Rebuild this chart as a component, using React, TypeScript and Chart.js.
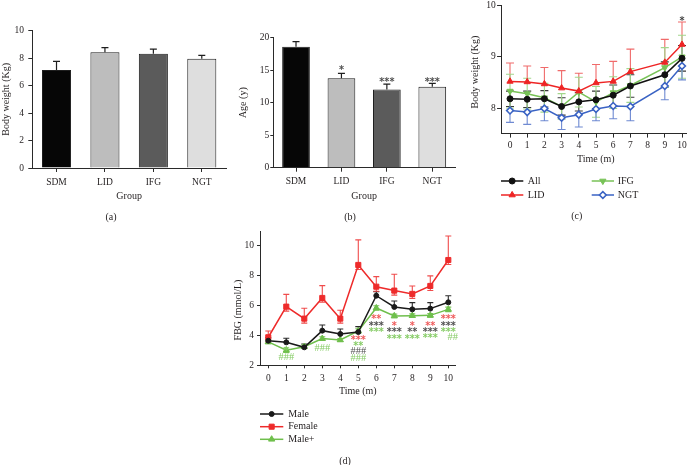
import React, { useEffect, useRef } from 'react';
import { Chart, registerables } from 'chart.js';

Chart.register(...registerables);

const SERIF = "'Liberation Serif', 'Times New Roman', Times, serif";
const STAR_FONT = "'DejaVu Sans', 'Liberation Sans', sans-serif";
const INK = '#231f20';
const AXIS = '#2a2a2a';

// ---------- (a) / (b) ----------
const groups = ['SDM', 'LID', 'IFG', 'NGT'];
const groupColors = ['#060606', '#bdbdbd', '#5b5b5b', '#dedede'];
const bodyWeightByGroup = [7.14, 8.43, 8.33, 7.95];
const bodyWeightByGroupErr = [0.63, 0.34, 0.33, 0.25];
const ageByGroup = [18.6, 13.75, 12.05, 12.45];
const ageByGroupErr = [0.8, 0.75, 0.8, 0.52];
const ageSigText = ['', '*', '***', '***'];
const ageSigLevel = [0, 15.5, 13.6, 13.6];

// ---------- (c) ----------
const monthsC = [0, 1, 2, 3, 4, 5, 6, 7, 9, 10];
const weightAll = [8.18, 8.17, 8.18, 8.03, 8.12, 8.16, 8.25, 8.43, 8.65, 8.97];
const weightAllErr = [0.15, 0.16, 0.16, 0.17, 0.18, 0.17, 0.2, 0.22, 0.25, 0.25];
const weightLID = [8.52, 8.51, 8.47, 8.39, 8.33, 8.49, 8.52, 8.71, 8.89, 9.24];
const weightLIDErr = [0.36, 0.31, 0.32, 0.34, 0.35, 0.36, 0.39, 0.44, 0.45, 0.44];
const weightIFG = [8.33, 8.28, 8.2, 8.03, 8.31, 8.12, 8.3, 8.44, 8.79, 9.0];
const weightIFGErr = [0.33, 0.3, 0.28, 0.25, 0.29, 0.3, 0.31, 0.33, 0.39, 0.42];
const weightNGT = [7.95, 7.92, 7.99, 7.81, 7.87, 7.98, 8.04, 8.03, 8.43, 8.82];
const weightNGTErr = [0.23, 0.24, 0.24, 0.23, 0.24, 0.23, 0.25, 0.28, 0.27, 0.27];
const weightSig: [number, number, string, string][] = [[10, 9.76, '*', '#444444']];

// ---------- (d) ----------
const monthsD = [0, 1, 2, 3, 4, 5, 6, 7, 8, 9, 10];
const fbgMale = [3.64, 3.53, 3.2, 4.31, 4.09, 4.22, 6.64, 5.89, 5.73, 5.78, 6.2];
const fbgMaleErr = [0.2, 0.27, 0.22, 0.38, 0.33, 0.36, 0.27, 0.4, 0.45, 0.4, 0.44];
const fbgFemale = [3.87, 5.91, 5.11, 6.49, 5.11, 8.69, 7.24, 6.98, 6.76, 7.29, 9.02];
const fbgFemaleErrUp = [0.42, 0.82, 0.69, 0.82, 0.56, 1.67, 0.67, 1.09, 0.53, 0.67, 1.6];
const fbgFemaleErrDown = [0.3, 0.3, 0.3, 0.28, 0.3, 0.3, 0.3, 0.3, 0.3, 0.3, 0.3];
const fbgMalePlus = [3.56, 3.0, 3.24, 3.78, 3.69, 4.29, 5.82, 5.29, 5.31, 5.33, 5.73];
const fbgMalePlusErr = [0.12, 0.15, 0.12, 0.12, 0.1, 0.15, 0.15, 0.12, 0.12, 0.12, 0.15];

const SIG_R = '#ef5a5a';
const SIG_K = '#505050';
const SIG_G = '#86cc66';
const fbgSig: [number, number, string, string][] = [
  [1, 3.15, '*', SIG_G], [1, 2.6, '###', SIG_G],
  [3, 3.2, '###', SIG_G],
  [5, 3.85, '***', SIG_R], [5, 3.45, '**', SIG_G], [5, 2.97, '###', SIG_K], [5, 2.52, '###', SIG_G],
  [6, 5.25, '**', SIG_R], [6, 4.82, '***', SIG_K], [6, 4.42, '***', SIG_G],
  [7, 4.78, '*', SIG_R], [7, 4.4, '***', SIG_K], [7, 3.97, '***', SIG_G],
  [8, 4.8, '*', SIG_R], [8, 4.4, '**', SIG_K], [8, 3.97, '***', SIG_G],
  [9, 4.8, '**', SIG_R], [9, 4.42, '***', SIG_K], [9, 4.0, '***', SIG_G],
  [10, 5.25, '***', SIG_R], [10, 4.82, '***', SIG_K], [10, 4.42, '***', SIG_G], [10.25, 3.95, '##', SIG_G],
];

// ---------- helpers ----------
type Frame = { L: number; T: number; R: number; B: number; yTitleX: number; xTitleY: number; W: number; H: number };
const TITLE_SIZE = 10;
const TITLE_LH = TITLE_SIZE * 1.2;

function frameLayout(f: Frame) {
  const padLeft = f.yTitleX - TITLE_LH / 2;
  return {
    padding: { left: padLeft, top: f.T, right: f.W - f.R, bottom: f.H - f.xTitleY - TITLE_LH / 2 },
    yWidth: f.L - padLeft,
    xHeight: f.xTitleY + TITLE_LH / 2 - f.B,
  };
}

function zeroPad(s: any) {
  s.paddingTop = 0; s.paddingBottom = 0; s.paddingLeft = 0; s.paddingRight = 0;
}

function axis(title: string, showTitle: boolean, tickLen: number, pad: number, extra: any, fit: (s: any) => void) {
  return {
    border: { display: true, color: AXIS, width: 1 },
    grid: { display: true, drawOnChartArea: false, drawTicks: true, tickLength: tickLen, color: AXIS, lineWidth: 1 },
    ticks: { color: INK, font: { family: SERIF, size: 9.5 }, padding: pad, ...(extra.ticks || {}) },
    title: { display: showTitle, text: title, color: INK, font: { family: SERIF, size: TITLE_SIZE, lineHeight: 1.2 }, padding: 0 },
    afterFit: (s: any) => { fit(s); zeroPad(s); },
    ...extra.rest,
  };
}

function marker(ctx: CanvasRenderingContext2D, style: string, x: number, y: number, r: number, rot: number, fill: string, stroke: string, lw: number) {
  ctx.save();
  ctx.beginPath();
  let rad = (rot * Math.PI) / 180;
  if (style === 'circle') {
    ctx.arc(x, y, r, 0, Math.PI * 2);
  } else if (style === 'triangle') {
    ctx.moveTo(x + Math.sin(rad) * r, y - Math.cos(rad) * r);
    rad += (2 * Math.PI) / 3;
    ctx.lineTo(x + Math.sin(rad) * r, y - Math.cos(rad) * r);
    rad += (2 * Math.PI) / 3;
    ctx.lineTo(x + Math.sin(rad) * r, y - Math.cos(rad) * r);
    ctx.closePath();
  } else if (style === 'rect') {
    const s = Math.SQRT1_2 * r;
    ctx.rect(x - s, y - s, 2 * s, 2 * s);
  } else if (style === 'rectRot') {
    ctx.moveTo(x - r, y); ctx.lineTo(x, y - r); ctx.lineTo(x + r, y); ctx.lineTo(x, y + r);
    ctx.closePath();
  }
  ctx.fillStyle = fill; ctx.fill();
  if (lw > 0) { ctx.strokeStyle = stroke; ctx.lineWidth = lw; ctx.stroke(); }
  ctx.restore();
}

function sigText(ctx: CanvasRenderingContext2D, text: string, x: number, y: number, color: string, size: number) {
  ctx.save();
  const isHash = text.indexOf('#') >= 0;
  ctx.font = isHash ? `${size}px ${SERIF}` : `bold ${size * 0.92}px ${STAR_FONT}`;
  ctx.fillStyle = color;
  ctx.textAlign = 'center';
  ctx.textBaseline = 'alphabetic';
  ctx.fillText(text, x, y + (isHash ? 0.34 : 0.55) * size);
  ctx.restore();
}

type LegendItem = { ds: number; x1: number; x2: number; y: number; tx: number };
type DecorCfg = {
  label: [string, number, number];
  yTitle?: [string, number, number];
  marks?: [number, number, string, string][];
  markSize?: number;
  barMarks?: { text: string[]; level: number[] };
  legend?: LegendItem[];
};

function drawErrors(chart: any, i: number) {
  const ds = chart.data.datasets[i];
  if (!ds.errUp && !ds.errDown) return;
  const meta = chart.getDatasetMeta(i);
  const ys = chart.scales.y;
  const ctx: CanvasRenderingContext2D = chart.ctx;
  ctx.save();
  ctx.strokeStyle = ds.errColor;
  ctx.lineWidth = ds.errWidth || 1;
  const cap = (ds.errCap || 6) / 2;
  meta.data.forEach((el: any, j: number) => {
    const raw = ds.data[j];
    const v = typeof raw === 'number' ? raw : raw.y;
    const x = el.x;
    const y0 = ys.getPixelForValue(v);
    const seg = (e: number) => {
      const y1 = ys.getPixelForValue(v + e);
      ctx.beginPath();
      ctx.moveTo(x, y0); ctx.lineTo(x, y1);
      ctx.moveTo(x - cap, y1); ctx.lineTo(x + cap, y1);
      ctx.stroke();
    };
    if (ds.errUp && ds.errUp[j]) seg(ds.errUp[j]);
    if (ds.errDown && ds.errDown[j]) seg(-ds.errDown[j]);
  });
  ctx.restore();
}

function makeDecor(cfg: DecorCfg) {
  return {
    id: 'decor',
    beforeDatasetsDraw(chart: any) {
      chart.data.datasets.forEach((ds: any, i: number) => { if (ds.errUnder) drawErrors(chart, i); });
    },
    afterDatasetsDraw(chart: any) {
      const ctx: CanvasRenderingContext2D = chart.ctx;
      chart.data.datasets.forEach((ds: any, i: number) => { if (!ds.errUnder) drawErrors(chart, i); });
      const xs = chart.scales.x;
      const ys = chart.scales.y;
      const size = cfg.markSize || 11;
      if (cfg.barMarks) {
        const meta = chart.getDatasetMeta(0);
        cfg.barMarks.text.forEach((t, j) => {
          if (!t) return;
          sigText(ctx, t, meta.data[j].x, ys.getPixelForValue(cfg.barMarks!.level[j]), SIG_K, size);
        });
      }
      if (cfg.marks) {
        cfg.marks.forEach(([mx, my, t, col]) => {
          sigText(ctx, t, xs.getPixelForValue(mx), ys.getPixelForValue(my), col, size);
        });
      }
      if (cfg.legend) {
        cfg.legend.forEach((it) => {
          const ds = chart.data.datasets[it.ds];
          ctx.save();
          ctx.strokeStyle = ds.borderColor;
          ctx.lineWidth = ds.borderWidth;
          ctx.beginPath();
          ctx.moveTo(it.x1, it.y); ctx.lineTo(it.x2, it.y);
          ctx.stroke();
          ctx.restore();
          marker(ctx, ds.pointStyle, (it.x1 + it.x2) / 2, it.y, ds.pointRadius, ds.pointRotation || 0,
            ds.pointBackgroundColor, ds.pointBorderColor, ds.pointBorderWidth || 0);
          ctx.save();
          ctx.font = `10px ${SERIF}`;
          ctx.fillStyle = INK;
          ctx.textAlign = 'left';
          ctx.textBaseline = 'middle';
          ctx.fillText(ds.label, it.tx, it.y);
          ctx.restore();
        });
      }
      if (cfg.yTitle) {
        const [tt, tx, ty] = cfg.yTitle;
        ctx.save();
        ctx.translate(tx, ty);
        ctx.rotate(-Math.PI / 2);
        ctx.font = `${TITLE_SIZE}px ${SERIF}`;
        ctx.fillStyle = INK;
        ctx.textAlign = 'center';
        ctx.textBaseline = 'middle';
        ctx.fillText(tt, 0, 0);
        ctx.restore();
      }
      const [lt, lx, ly] = cfg.label;
      ctx.save();
      ctx.font = `10px ${SERIF}`;
      ctx.fillStyle = INK;
      ctx.textAlign = 'center';
      ctx.textBaseline = 'middle';
      ctx.fillText(lt, lx, ly);
      ctx.restore();
    },
  };
}

function barConfig(f: Frame, yTitle: string, values: number[], errs: number[], yMax: number, step: number,
  yTick: [number, number], xTick: [number, number], barPct: number, decor: DecorCfg) {
  const lay = frameLayout(f);
  return {
    type: 'bar',
    data: {
      labels: groups,
      datasets: [{
        data: values,
        backgroundColor: groupColors,
        borderColor: '#1e1e1e',
        borderWidth: 1,
        borderSkipped: 'bottom',
        barPercentage: barPct,
        categoryPercentage: 1,
        errUp: errs,
        errColor: '#1e1e1e',
        errWidth: 1.2,
        errCap: 7,
      }],
    },
    options: {
      responsive: false,
      animation: false,
      events: [],
      layout: { padding: lay.padding },
      plugins: { legend: { display: false }, tooltip: { enabled: false } },
      scales: {
        x: axis('Group', true, xTick[0], xTick[1], { rest: { type: 'category', offset: true, grid: { display: true, drawOnChartArea: false, drawTicks: true, tickLength: xTick[0], color: AXIS, offset: false } } },
          (s) => { s.height = lay.xHeight; }),
        y: axis(yTitle, true, yTick[0], yTick[1], { ticks: { stepSize: step }, rest: { type: 'linear', min: 0, max: yMax } },
          (s) => { s.width = lay.yWidth; }),
      },
    },
    plugins: [makeDecor(decor)],
  };
}

function lineDs(label: string, xs: number[], ys: number[], color: string, style: string, radius: number, rot: number,
  fill: string, pbw: number, errUp: number[] | null, errDown: number[] | null, errColor: string, cap: number) {
  return {
    label,
    data: xs.map((x, i) => ({ x, y: ys[i] })),
    borderColor: color,
    borderWidth: 1.5,
    pointStyle: style,
    pointRadius: radius,
    pointRotation: rot,
    pointBackgroundColor: fill,
    pointBorderColor: color,
    pointBorderWidth: pbw,
    tension: 0,
    fill: false,
    errUp, errDown, errColor, errWidth: 1.1, errCap: cap, errUnder: true,
  };
}

function lineConfig(f: Frame, datasets: any[], xMin: number, xMax: number, yMin: number, yMax: number,
  yStep: number, yTick: [number, number], xTick: [number, number], decor: DecorCfg) {
  const lay = frameLayout(f);
  return {
    type: 'line',
    data: { datasets },
    options: {
      responsive: false,
      animation: false,
      events: [],
      layout: { padding: lay.padding },
      plugins: { legend: { display: false }, tooltip: { enabled: false } },
      scales: {
        x: axis('Time (m)', true, xTick[0], xTick[1], { ticks: { stepSize: 1, includeBounds: false }, rest: { type: 'linear', min: xMin, max: xMax } },
          (s) => { s.height = lay.xHeight; }),
        y: axis('', false, yTick[0], yTick[1], { ticks: { stepSize: yStep, includeBounds: false }, rest: { type: 'linear', min: yMin, max: yMax } },
          (s) => { s.width = lay.yWidth; }),
      },
    },
    plugins: [makeDecor(decor)],
  };
}

const PAGE_W = 687;
const PAGE_H = 465;

const frameA: Frame = { L: 32.3, T: 30.7, R: 226, B: 168, yTitleX: 6, xTitleY: 196, W: PAGE_W, H: PAGE_H };
const frameB: Frame = { L: 273.3, T: 37.7, R: 455, B: 167.7, yTitleX: 243.3, xTitleY: 196, W: PAGE_W, H: PAGE_H };
const frameC: Frame = { L: 501.06, T: 4.5, R: 690.6, B: 133.6, yTitleX: 475, xTitleY: 159.3, W: 720, H: PAGE_H };
const frameD: Frame = { L: 260, T: 231.8, R: 455.5, B: 365.3, yTitleX: 238, xTitleY: 391, W: PAGE_W, H: PAGE_H };

function configA() {
  return barConfig(frameA, 'Body weight (Kg)', bodyWeightByGroup, bodyWeightByGroupErr, 10, 2, [4, 4.3], [4, 4.3], 0.6,
    { label: ['(a)', 111, 217] });
}
function configB() {
  return barConfig(frameB, 'Age (y)', ageByGroup, ageByGroupErr, 20, 5, [3, 1], [4, 4.3], 0.61,
    { label: ['(b)', 350, 217], barMarks: { text: ageSigText, level: ageSigLevel }, markSize: 10.5 });
}
function configC() {
  const ds = [
    lineDs('All', monthsC, weightAll, '#111111', 'circle', 3, 0, '#111111', 1, weightAllErr, weightAllErr, '#3a3a3a', 8),
    lineDs('LID', monthsC, weightLID, '#ee2424', 'triangle', 3.6, 0, '#ee2424', 1, weightLIDErr, null, '#f06a6a', 8),
    lineDs('IFG', monthsC, weightIFG, '#78c257', 'triangle', 3.6, 180, '#78c257', 1, weightIFGErr, weightIFGErr, '#a2d68c', 8),
    lineDs('NGT', monthsC, weightNGT, '#3a63c4', 'rectRot', 3.4, 0, '#ffffff', 1.6, null, weightNGTErr, '#6f8ad2', 8),
  ];
  return lineConfig(frameC, ds, -0.52, 10.5, 7.5, 10, 1, [4, 1.3], [4, 1.7], {
    label: ['(c)', 576.7, 216.7],
    yTitle: ['Body weight (Kg)', 475, 72],
    marks: weightSig,
    markSize: 10.5,
    legend: [
      { ds: 0, x1: 501, x2: 523.3, y: 181, tx: 527.7 },
      { ds: 1, x1: 501, x2: 523.3, y: 195, tx: 527.7 },
      { ds: 2, x1: 591.7, x2: 614, y: 181, tx: 617.7 },
      { ds: 3, x1: 591.7, x2: 614, y: 195, tx: 617.7 },
    ],
  });
}
function configD() {
  const ds = [
    lineDs('Male', monthsD, fbgMale, '#1a1a1a', 'circle', 2.5, 0, '#1a1a1a', 1, fbgMaleErr, null, '#2a2a2a', 6),
    lineDs('Female', monthsD, fbgFemale, '#ee2b2b', 'rect', 3.6, 0, '#ee2b2b', 1, fbgFemaleErrUp, fbgFemaleErrDown, '#f04c4c', 6),
    lineDs('Male+', monthsD, fbgMalePlus, '#6fbf4c', 'triangle', 3.6, 0, '#6fbf4c', 1, fbgMalePlusErr, fbgMalePlusErr, '#7cc35a', 6),
  ];
  return lineConfig(frameD, ds, -0.46, 10.4, 2, 10.9, 2, [3, 3], [3, 4.3], {
    label: ['(d)', 345, 461],
    yTitle: ['FBG (mmol/L)', 238, 310],
    marks: fbgSig,
    markSize: 10.5,
    legend: [
      { ds: 0, x1: 260, x2: 283.3, y: 414, tx: 288.3 },
      { ds: 1, x1: 260, x2: 283.3, y: 426.7, tx: 288.3 },
      { ds: 2, x1: 260, x2: 283.3, y: 439.3, tx: 288.3 },
    ],
  });
}

function Panel({ make, width, height }: { make: () => any; width: number; height: number }) {
  const ref = useRef<HTMLCanvasElement>(null);
  useEffect(() => {
    const chart = new Chart(ref.current as HTMLCanvasElement, make());
    return () => chart.destroy();
  }, []);
  return (
    <canvas
      ref={ref}
      width={width}
      height={height}
      style={{ position: 'absolute', left: 0, top: 0, width, height }}
    />
  );
}

export default function App() {
  return (
    <div style={{ position: 'fixed', left: 0, top: 0, width: PAGE_W, height: PAGE_H, overflow: 'hidden', background: '#ffffff' }}>
      <Panel make={configA} width={PAGE_W} height={PAGE_H} />
      <Panel make={configB} width={PAGE_W} height={PAGE_H} />
      <Panel make={configC} width={720} height={PAGE_H} />
      <Panel make={configD} width={PAGE_W} height={PAGE_H} />
    </div>
  );
}
